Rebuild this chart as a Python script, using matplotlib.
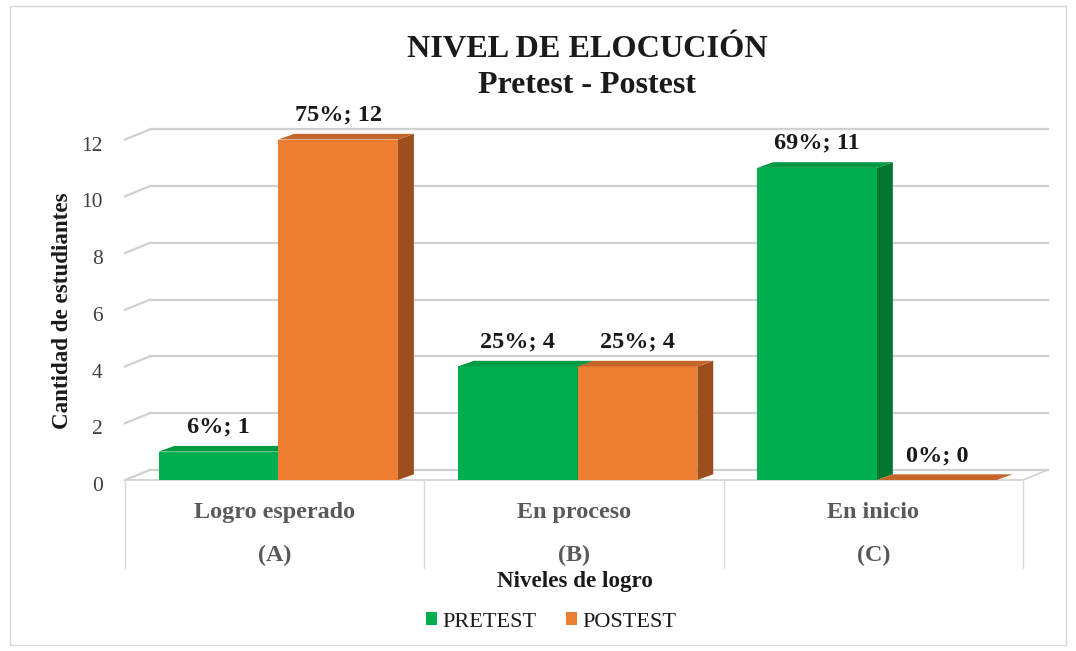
import matplotlib.pyplot as plt
from matplotlib.patches import Polygon, Rectangle, Patch
from matplotlib.transforms import ScaledTranslation

# data
categories = ['Logro esperado', 'En proceso', 'En inicio']
letters = ['(A)', '(B)', '(C)']
pretest = [1, 4, 11]
postest = [12, 4, 0]
pretest_pct = [6, 25, 69]
postest_pct = [75, 25, 0]
yticks = [0, 2, 4, 6, 8, 10, 12]

serif = 'Liberation Serif'
GREEN = ('#00B050', '#00772F', '#009944')   # front, side, top
ORANGE = ('#ED7D31', '#9C4E1D', '#C4652A')

# 3D look: depth of bars and of the back wall, in data units
BAR_DX, BAR_DY = 0.053, 0.2
WALL_DX, WALL_DY = 0.084, 0.36
BAR_W = 0.4


def bar3d(ax, x, h, colors):
    front, side, top = colors
    ax.add_patch(Rectangle((x, 0), BAR_W, h, facecolor=front, edgecolor='none', zorder=3))
    ax.add_patch(Polygon([(x + BAR_W, 0), (x + BAR_W + BAR_DX, BAR_DY),
                          (x + BAR_W + BAR_DX, h + BAR_DY), (x + BAR_W, h)],
                         closed=True, facecolor=side, edgecolor='none', zorder=3, clip_on=False))
    ax.add_patch(Polygon([(x, h), (x + BAR_DX, h + BAR_DY),
                          (x + BAR_W + BAR_DX, h + BAR_DY), (x + BAR_W, h)],
                         closed=True, facecolor=top, edgecolor='none', zorder=3, clip_on=False))


fig = plt.figure(figsize=(10.76, 6.51), dpi=100)
fig.patches.append(Rectangle((0.009, 0.009), 0.982, 0.982, transform=fig.transFigure,
                             fill=False, edgecolor='#D9D9D9', linewidth=1.0))

ax = fig.add_axes([0.1162, 0.2627, 0.8346, 0.523])
ax.set_xlim(-0.5, len(categories) - 0.5)
ax.set_ylim(0, 12)
for s in ax.spines.values():
    s.set_visible(False)
ax.set_xticks([])
ax.set_yticks(yticks)
ax.set_yticklabels([str(t) for t in yticks], fontfamily=serif, fontsize=15.5, color='#404040')
ax.tick_params(axis='y', length=0, pad=16)
shift = ScaledTranslation(0, -3 / 72, fig.dpi_scale_trans)
for lab in ax.get_yticklabels():
    lab.set_transform(lab.get_transform() + shift)

grid_c = '#D0D0D0'
x0, x1 = -0.5, len(categories) - 0.5
for t in yticks:
    ax.plot([x0 + WALL_DX, x1 + WALL_DX], [t + WALL_DY, t + WALL_DY],
            color=grid_c, lw=1.6, zorder=1, clip_on=False)
    ax.plot([x0, x0 + WALL_DX], [t, t + WALL_DY], color=grid_c, lw=1.6, zorder=1, clip_on=False)
# floor front edge and right diagonal
ax.plot([x0, x1, x1 + WALL_DX], [0, 0, WALL_DY], color=grid_c, lw=1.2, zorder=2, clip_on=False)

# category dividers below the floor
for xd in [x0 + i for i in range(len(categories) + 1)]:
    ax.plot([xd, xd], [0, -3.1], color='#D9D9D9', lw=1.0, clip_on=False)

for i in range(len(categories)):
    gx = i - BAR_W + 0.012
    ox = i + 0.012
    bar3d(ax, gx, pretest[i], GREEN)
    bar3d(ax, ox, postest[i], ORANGE)
    for x, v, p in [(gx, pretest[i], pretest_pct[i]), (ox, postest[i], postest_pct[i])]:
        ax.annotate(f'{p}%; {v}', (x + BAR_W / 2, v + BAR_DY), xytext=(0, 6),
                    textcoords='offset points', ha='center', va='bottom',
                    fontfamily=serif, fontweight='bold', fontsize=17.5, color='#1A1A1A',
                    annotation_clip=False)
    ax.text(i, -1.15, categories[i], ha='center', va='center', fontfamily=serif,
            fontweight='bold', fontsize=17.4, color='#595959')
    ax.text(i, -2.65, letters[i], ha='center', va='center', fontfamily=serif,
            fontweight='bold', fontsize=17.4, color='#595959')

fig.text(0.546, 1 - 57 / 651, 'NIVEL DE ELOCUCIÓN', ha='center', va='baseline',
         fontfamily=serif, fontweight='bold', fontsize=23.2, color='#1A1A1A')
fig.text(0.546, 1 - 93 / 651, 'Pretest - Postest', ha='center', va='baseline',
         fontfamily=serif, fontweight='bold', fontsize=23, color='#1A1A1A')
fig.text(62 / 1076, 1 - 311 / 651, 'Cantidad de estudiantes', rotation=90, ha='center',
         va='center', fontfamily=serif, fontweight='bold', fontsize=16.6, color='#1A1A1A')
fig.text(575 / 1076, 1 - 582 / 651, 'Niveles de logro', ha='center', va='center',
         fontfamily=serif, fontweight='bold', fontsize=16.6, color='#1A1A1A')

handles = [Patch(facecolor=GREEN[0], label='PRETEST'), Patch(facecolor=ORANGE[0], label='POSTEST')]
fig.legend(handles=handles, loc='center', bbox_to_anchor=(551 / 1076, 1 - 622 / 651), ncol=2,
           frameon=False, prop={'family': serif, 'size': 16},
           handlelength=0.5, handleheight=0.5, handletextpad=0.25, columnspacing=1.3,
           labelcolor='#1A1A1A')

fig.savefig('out.png', dpi=100)
